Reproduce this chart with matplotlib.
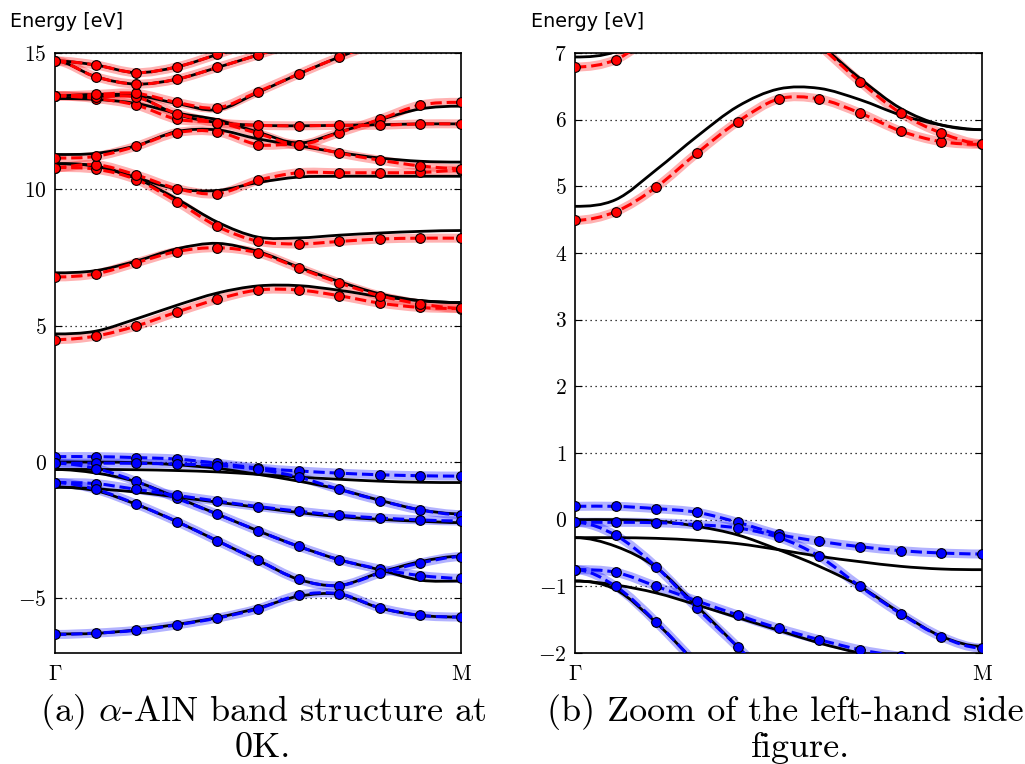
"""
alpha-AlN band structure: DFT bands (black) vs. fitted bands (dashed, dots),
full range on the left and a zoom around the gap on the right.
"""

import numpy as np
import matplotlib
matplotlib.use("Agg")
import matplotlib.pyplot as plt
from matplotlib.path import Path
from matplotlib.patches import PathPatch

# k-path sample points (Gamma -> M)
k_pts = [0.0, 0.1, 0.2, 0.3, 0.4, 0.5, 0.6, 0.7, 0.8, 0.9, 1.0]
k_labels = [r"$\Gamma$", r"$\mathrm{M}$"]

# ── fitted conduction bands (red dashed + dots) ──
cb1 = [4.49, 4.62, 4.99, 5.50, 5.97, 6.31, 6.31, 6.10, 5.83, 5.67, 5.63]
cb2 = [6.79, 6.90, 7.31, 7.72, 7.86, 7.67, 7.12, 6.57, 6.10, 5.80, 5.64]
cb3 = [10.80, 10.74, 10.36, 9.55, 8.64, 8.10, 8.00, 8.09, 8.18, 8.21, 8.21]
cb4 = [10.80, 10.91, 10.53, 10.03, 9.84, 10.33, 10.61, 10.61, 10.61, 10.62, 10.70]
cb5 = [11.15, 11.21, 11.58, 12.08, 12.11, 11.64, 11.64, 11.33, 11.07, 10.86, 10.76]
cb6 = [13.43, 13.33, 13.09, 12.57, 12.45, 12.05, 11.64, 12.08, 12.57, 13.09, 13.19]
cb7 = [13.43, 13.40, 13.38, 12.78, 12.45, 12.35, 12.33, 12.35, 12.35, 12.40, 12.40]
cb8 = [13.43, 13.48, 13.52, 13.19, 12.99, 13.58, 14.23, 14.85, 15.40, 15.80, 15.95]
cb9 = [14.71, 14.13, 13.86, 14.04, 14.47, 14.93, 15.40, 15.80, 16.05, 16.15, 16.20]
cb10 = [14.71, 14.56, 14.28, 14.49, 14.95, 15.45, 15.85, 16.15, 16.35, 16.45, 16.50]

# ── fitted valence bands (blue dashed + dots) ──
vb1 = [0.20, 0.20, 0.165, 0.11, -0.04, -0.22, -0.325, -0.405, -0.465, -0.50, -0.515]
vb2 = [-0.04, -0.04, -0.045, -0.075, -0.125, -0.265, -0.55, -1.00, -1.41, -1.755, -1.925]
vb3 = [-0.04, -0.235, -0.71, -1.33, -1.91, -2.52, -3.09, -3.58, -3.92, -4.16, -4.26]
vb4 = [-0.75, -0.79, -1.00, -1.22, -1.43, -1.63, -1.80, -1.95, -2.05, -2.12, -2.16]
vb5 = [-0.75, -1.00, -1.54, -2.18, -2.89, -3.60, -4.30, -4.53, -4.08, -3.70, -3.47]
vb6 = [-6.32, -6.27, -6.17, -5.97, -5.72, -5.38, -4.88, -4.83, -5.34, -5.62, -5.68]

# ── reference DFT bands (black solid) ──
cb1_ref = [4.70, 4.80, 5.25, 5.75, 6.20, 6.46, 6.47, 6.30, 6.07, 5.92, 5.85]
cb2_ref = [6.94, 7.02, 7.37, 7.82, 8.02, 7.72, 7.15, 6.62, 6.17, 5.92, 5.85]
cb3_ref = [10.94, 10.85, 10.40, 9.65, 8.80, 8.25, 8.22, 8.32, 8.40, 8.46, 8.49]
cb4_ref = [10.94, 10.86, 10.43, 10.02, 9.96, 10.25, 10.45, 10.48, 10.48, 10.48, 10.48]
cb5_ref = [11.28, 11.32, 11.60, 12.12, 12.18, 11.85, 11.60, 11.35, 11.15, 11.03, 11.00]
cb6_ref = [13.33, 13.30, 13.15, 12.80, 12.55, 12.10, 11.70, 12.10, 12.55, 12.95, 13.05]
cb7_ref = [13.33, 13.40, 13.40, 12.75, 12.45, 12.35, 12.33, 12.35, 12.37, 12.40, 12.40]
cb8_ref = [13.43, 13.48, 13.45, 13.15, 12.92, 13.55, 14.23, 14.85, 15.40, 15.80, 15.95]
cb9_ref = [14.71, 14.13, 13.86, 14.04, 14.47, 14.93, 15.40, 15.80, 16.05, 16.15, 16.20]
cb10_ref = [14.71, 14.56, 14.28, 14.49, 14.95, 15.45, 15.85, 16.15, 16.35, 16.45, 16.50]

vb1_ref = [-0.27, -0.27, -0.28, -0.31, -0.36, -0.45, -0.55, -0.63, -0.70, -0.74, -0.75]
vb2_ref = [0.00, 0.00, -0.02, -0.10, -0.23, -0.45, -0.70, -1.00, -1.40, -1.75, -1.90]
vb3_ref = [-0.27, -0.40, -0.72, -1.30, -1.91, -2.52, -3.09, -3.58, -3.95, -4.33, -4.36]
vb4_ref = [-0.92, -0.98, -1.10, -1.28, -1.47, -1.66, -1.85, -2.00, -2.10, -2.17, -2.22]
vb5_ref = [-0.92, -1.05, -1.55, -2.18, -2.89, -3.60, -4.30, -4.52, -4.05, -3.65, -3.45]
vb6_ref = [-6.30, -6.28, -6.15, -5.95, -5.70, -5.35, -4.92, -4.85, -5.35, -5.62, -5.68]

conduction_fit = [cb1, cb2, cb3, cb4, cb5, cb6, cb7, cb8, cb9, cb10]
valence_fit = [vb1, vb2, vb3, vb4, vb5, vb6]
reference = [cb1_ref, cb2_ref, cb3_ref, cb4_ref, cb5_ref, cb6_ref, cb7_ref,
             cb8_ref, cb9_ref, cb10_ref,
             vb1_ref, vb2_ref, vb3_ref, vb4_ref, vb5_ref, vb6_ref]

plt.rcParams["font.family"] = "cmr10"
plt.rcParams["mathtext.fontset"] = "cm"
plt.rcParams["axes.formatter.use_mathtext"] = True


def smooth_path(x, y):
    """Cubic Bezier through the samples; ends mirrored so slope is 0 at Gamma/M."""
    x = np.asarray(x, float)
    y = np.asarray(y, float)
    xp = np.r_[2 * x[0] - x[1], x, 2 * x[-1] - x[-2]]
    yp = np.r_[y[1], y, y[-2]]
    verts = [(x[0], y[0])]
    codes = [Path.MOVETO]
    for i in range(1, len(xp) - 2):
        c1 = (xp[i] + (xp[i + 1] - xp[i - 1]) / 6, yp[i] + (yp[i + 1] - yp[i - 1]) / 6)
        c2 = (xp[i + 1] - (xp[i + 2] - xp[i]) / 6, yp[i + 1] - (yp[i + 2] - yp[i]) / 6)
        verts += [c1, c2, (xp[i + 1], yp[i + 1])]
        codes += [Path.CURVE4] * 3
    return Path(verts, codes)


def draw_bands(ax):
    for band in reference:
        ax.add_patch(PathPatch(smooth_path(k_pts, band), fill=False,
                               edgecolor="black", lw=2.0, zorder=3))
    for bands, color in ((conduction_fit, "#ff0000"), (valence_fit, "#0000ff")):
        for band in bands:
            path = smooth_path(k_pts, band)
            ax.add_patch(PathPatch(path, fill=False, edgecolor=color, alpha=0.3,
                                   lw=6.5, capstyle="round", zorder=2))
            ax.add_patch(PathPatch(path, fill=False, edgecolor=color, lw=2.2,
                                   linestyle="--", zorder=4))
            ax.plot(k_pts, band, "o", color=color, mec="black", mew=0.8,
                    ms=7, zorder=5)


def style_axes(ax, ylim, yticks):
    ax.set_xlim(0, 1)
    ax.set_ylim(*ylim)
    ax.set_yticks(yticks)
    ax.set_xticks([0, 1])
    ax.set_xticklabels(k_labels)
    ax.tick_params(axis="y", direction="in", right=True, length=5,
                   labelsize=15.5, pad=6)
    ax.tick_params(axis="x", direction="in", length=0, labelsize=15.5, pad=8)
    ax.yaxis.grid(True, color="black", lw=0.9, linestyle=(0, (1, 3)))
    ax.set_axisbelow(True)
    for sp in ax.spines.values():
        sp.set_linewidth(1.2)


fig = plt.figure(figsize=(10.25, 7.64), dpi=100)
ax_full = fig.add_axes([55 / 1025, 111 / 764, 406 / 1025, 600 / 764])
ax_zoom = fig.add_axes([575 / 1025, 111 / 764, 407 / 1025, 600 / 764])

for ax in (ax_full, ax_zoom):
    draw_bands(ax)

style_axes(ax_full, (-7, 15), [-5, 0, 5, 10, 15])
style_axes(ax_zoom, (-2, 7), [-2, -1, 0, 1, 2, 3, 4, 5, 6, 7])

# "Energy [eV]" headers above each panel
for x0 in (10, 531):
    fig.text(x0 / 1025, 1 - 27 / 764, "Energy [eV]", family="DejaVu Sans",
             fontsize=13.8, ha="left", va="baseline")

# sub-captions, one text per line
captions = [
    (263, 712, "(a) $\\alpha$-AlN band structure at"),
    (263, 748, "0K."),
    (785, 712, "(b) Zoom of the left-hand side"),
    (800, 748, "figure."),
]
for cx, cy, txt in captions:
    fig.text(cx / 1025, 1 - cy / 764, txt, fontsize=26, ha="center", va="center")

plt.savefig("out.png", dpi=100)
plt.close()
